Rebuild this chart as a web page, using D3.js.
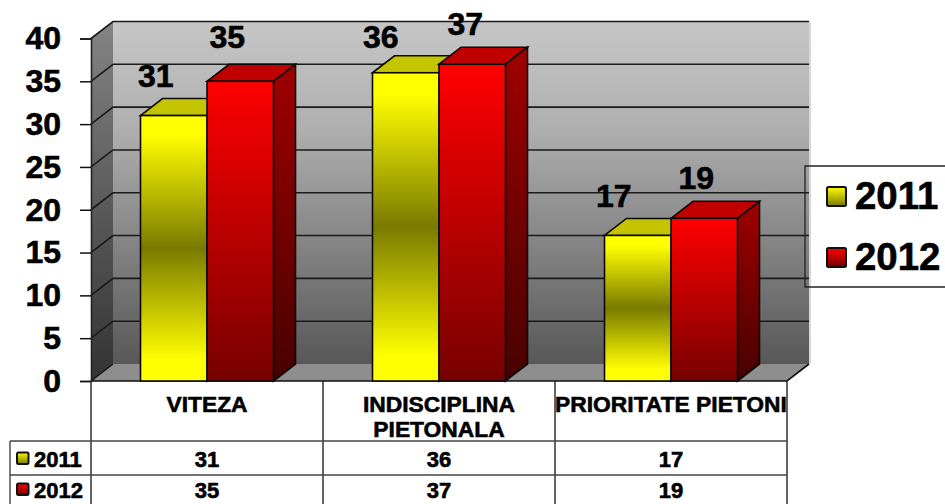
<!DOCTYPE HTML>
<html lang="ro">
<head>
    <meta charset="utf-8" />
    <title>2011 / 2012</title>
    <style>
        html, body { margin: 0; padding: 0; background: #fff; overflow: hidden; }
        text { font-family: "Liberation Sans", Arial, sans-serif; font-weight: bold; fill: #000; stroke: #000; stroke-width: 0.6px; }
    </style>
</head>
<body>
<script src="https://d3js.org/d3.v7.min.js"></script>
<script>
    const categories = [["VITEZA"], ["INDISCIPLINA", "PIETONALA"], ["PRIORITATE PIETONI"]];
    const categoryKeys = ["VITEZA", "INDISCIPLINA PIETONALA", "PRIORITATE PIETONI"];
    const seriesNames = ["2011", "2012"];
    const values2011 = [31, 36, 17];
    const values2012 = [35, 37, 19];
    const yTicks = [0, 5, 10, 15, 20, 25, 30, 35, 40];

    const seriesValues = [values2011, values2012];

    // layout
    const W = 945, H = 504;
    const depthX = 22, depthY = 17;
    const left = 91, right = 787, floorY = 381, topY = 38.5;
    const rowTop = 441, rowMid = 475, rowLeft = 10;
    // the data labels were nudged by hand in the original
    const labelShift = [[-18, -13], [-25, -7], [-24, -8]];
    const labelLift = [[40, 45], [36, 40], [40, 41]];

    const x = d3.scaleBand().domain(categoryKeys).range([left, right]);
    const xInner = d3.scaleBand().domain(seriesNames).range([49.5, 182.5]);
    const y = d3.scaleLinear().domain([0, 40]).range([floorY, topY]);

    const svg = d3.select("body").append("svg")
        .attr("width", W).attr("height", H)
        .style("display", "block");

    const defs = svg.append("defs");
    function gradient(id, stops, y1, y2) {
        const g = defs.append("linearGradient").attr("id", id)
            .attr("gradientUnits", "userSpaceOnUse")
            .attr("x1", 0).attr("x2", 0).attr("y1", y1).attr("y2", y2);
        stops.forEach(s => g.append("stop").attr("offset", s[0]).attr("stop-color", s[1]));
    }
    gradient("wall", [[0, "#c6c6c6"], [0.3, "#b0b0b0"], [1, "#585858"]], topY - depthY, floorY - depthY);
    gradient("sideWall", [[0, "#848484"], [1, "#333333"]], topY - depthY, floorY);

    const line = d3.line();

    // back wall, left wall, floor
    svg.append("rect")
        .attr("x", left + depthX).attr("y", topY - depthY)
        .attr("width", right - left).attr("height", floorY - topY)
        .attr("fill", "url(#wall)");
    svg.append("rect")
        .attr("x", right + depthX).attr("y", topY - depthY)
        .attr("width", 2).attr("height", floorY - topY)
        .attr("fill", "#d8d8d8");
    svg.append("path")
        .attr("d", line([[left, topY], [left + depthX, topY - depthY], [left + depthX, floorY - depthY], [left, floorY]]) + "Z")
        .attr("fill", "url(#sideWall)");
    svg.append("path")
        .attr("d", line([[left, floorY], [left + depthX, floorY - depthY], [right + depthX, floorY - depthY], [right, floorY]]) + "Z")
        .attr("fill", "#8e8e8e");

    // grid lines on both walls
    svg.append("g").selectAll("path").data(yTicks).join("path")
        .attr("d", d => line([[left, y(d)], [left + depthX, y(d) - depthY], [right + depthX, y(d) - depthY]]))
        .attr("fill", "none")
        .attr("stroke", d => d === 0 ? "none" : "#1a1a1a")
        .attr("stroke-width", 1.6);
    svg.append("path")
        .attr("d", line([[left + depthX, floorY - depthY], [left, floorY]]))
        .attr("stroke", "#111").attr("stroke-width", 1.4);
    svg.append("path")
        .attr("d", line([[left, floorY], [right, floorY], [right + depthX, floorY - depthY]]))
        .attr("fill", "none").attr("stroke", "#111").attr("stroke-width", 1.6);

    // y axis
    const yAxis = svg.append("g")
        .attr("transform", `translate(${left},0)`)
        .call(d3.axisLeft(y).tickValues(yTicks).tickSize(11).tickPadding(19));
    yAxis.select(".domain").attr("stroke", "#222").attr("stroke-width", 1.6);
    yAxis.selectAll(".tick line").attr("stroke", "#111").attr("stroke-width", 1.5);
    yAxis.selectAll("text").attr("font-size", 32).attr("font-family", null).style("fill", "#000");

    // bars
    const palette = {
        "2011": {
            front: [[0, "#ffff00"], [0.07, "#ffff00"], [0.5, "#7a7a00"], [0.92, "#ffff00"], [1, "#ffff00"]],
            top: "#c4c400",
            side: [[0, "#9a9a00"], [1, "#4a4a00"]]
        },
        "2012": {
            front: [[0, "#ff0000"], [1, "#770000"]],
            top: "#c00000",
            side: [[0, "#a00000"], [1, "#480000"]]
        }
    };
    const barStroke = "#0a0a0a";

    seriesNames.forEach((name, si) => {
        const pal = palette[name];
        const g = svg.append("g");
        categoryKeys.forEach((key, ci) => {
            const v = seriesValues[si][ci];
            const x0 = x(key) + xInner(name);
            const x1 = x0 + xInner.bandwidth();
            const yt = y(v);

            const idF = `front${si}${ci}`, idS = `side${si}${ci}`;
            gradient(idF, pal.front, yt, floorY);
            gradient(idS, pal.side, yt - depthY, floorY);

            g.append("path")
                .attr("d", line([[x0, yt], [x0 + depthX, yt - depthY], [x1 + depthX, yt - depthY], [x1, yt]]) + "Z")
                .attr("fill", pal.top).attr("stroke", barStroke).attr("stroke-width", 1.6);
            g.append("path")
                .attr("d", line([[x1, yt], [x1 + depthX, yt - depthY], [x1 + depthX, floorY - depthY], [x1, floorY]]) + "Z")
                .attr("fill", `url(#${idS})`).attr("stroke", barStroke).attr("stroke-width", 1.6);
            g.append("rect")
                .attr("x", x0).attr("y", yt)
                .attr("width", x1 - x0).attr("height", floorY - yt)
                .attr("fill", `url(#${idF})`).attr("stroke", barStroke).attr("stroke-width", 1.6);
        });
    });

    // data labels go on top of everything
    seriesNames.forEach((name, si) => {
        categoryKeys.forEach((key, ci) => {
            const v = seriesValues[si][ci];
            svg.append("text")
                .attr("x", x(key) + xInner(name) + xInner.bandwidth() / 2 + labelShift[ci][si])
                .attr("y", y(v) - labelLift[ci][si])
                .attr("dy", "0.35em")
                .attr("text-anchor", "middle")
                .attr("font-size", 32)
                .text(v);
        });
    });

    // data table
    const tableStroke = "#222";
    const edges = categoryKeys.map(k => x(k)).concat([right]);
    svg.append("g").selectAll("line").data(edges).join("line")
        .attr("x1", d => d).attr("x2", d => d)
        .attr("y1", floorY).attr("y2", H)
        .attr("stroke", tableStroke).attr("stroke-width", 1.4);
    svg.append("g").selectAll("line").data([rowTop, rowMid]).join("line")
        .attr("x1", rowLeft).attr("x2", right)
        .attr("y1", d => d).attr("y2", d => d)
        .attr("stroke", "#444").attr("stroke-width", 1.4);
    svg.append("line")
        .attr("x1", rowLeft).attr("x2", rowLeft).attr("y1", rowTop).attr("y2", H)
        .attr("stroke", "#444").attr("stroke-width", 1.4);

    categoryKeys.forEach((key, ci) => {
        const cx = x(key) + x.bandwidth() / 2;
        categories[ci].forEach((part, i) => {
            svg.append("text")
                .attr("x", cx).attr("y", 404 + i * 25)
                .attr("dy", "0.35em")
                .attr("text-anchor", "middle")
                .attr("font-size", 22.8)
                .text(part);
        });
    });

    const rowY = [459, 490];
    function swatch(parent, name, sx, sy, size) {
        const id = "sw" + name + size;
        gradient(id, name === "2011"
            ? [[0, "#ffff00"], [1, "#7a7a00"]]
            : [[0, "#ff0000"], [1, "#770000"]], sy, sy + size);
        parent.append("rect")
            .attr("x", sx).attr("y", sy)
            .attr("width", size).attr("height", size)
            .attr("rx", 1.5)
            .attr("fill", `url(#${id})`)
            .attr("stroke", "#111").attr("stroke-width", 2);
    }

    seriesNames.forEach((name, si) => {
        swatch(svg, name, 17, rowY[si] - 6.5, 11.5);
        svg.append("text")
            .attr("x", 34).attr("y", rowY[si])
            .attr("dy", "0.35em")
            .attr("font-size", 22)
            .text(name);
        categoryKeys.forEach((key, ci) => {
            svg.append("text")
                .attr("x", x(key) + x.bandwidth() / 2).attr("y", rowY[si])
                .attr("dy", "0.35em")
                .attr("text-anchor", "middle")
                .attr("font-size", 22)
                .text(seriesValues[si][ci]);
        });
    });

    // legend
    const legendY = [196, 257];
    svg.append("path")
        .attr("d", line([[W, 166], [805, 166], [805, 287], [W, 287]]))
        .attr("fill", "none").attr("stroke", "#222").attr("stroke-width", 1.3);
    seriesNames.forEach((name, si) => {
        swatch(svg, name, 827, legendY[si] - 9, 19);
        svg.append("text")
            .attr("x", 855).attr("y", legendY[si])
            .attr("dy", "0.35em")
            .attr("font-size", 38.4)
            .text(name);
    });
</script>
</body>
</html>
